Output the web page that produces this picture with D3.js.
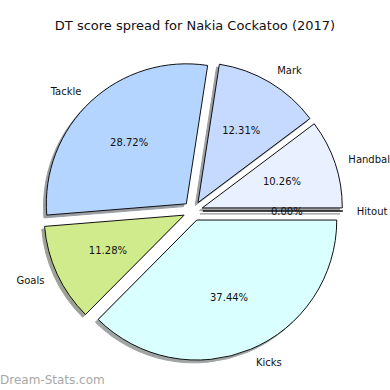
<!DOCTYPE html>
<html><head><meta charset="utf-8">
<script src="https://cdn.jsdelivr.net/npm/d3@7"></script>
<style>body{margin:0;background:#fff}svg{display:block}text{font-family:"DejaVu Sans",sans-serif}</style>
</head><body>
<script>
const categories = ["Hitout","Handball","Mark","Tackle","Goals","Kicks"];
const values = [0, 20, 24, 56, 22, 73];
const colors = ["#f0f0ff","#e9f0ff","#c6daff","#b3d5ff","#d0eb8b","#d9ffff"];
const titleText = "DT score spread for Nakia Cockatoo (2017)";

const W = 390, H = 390;
const cx = 193, cy = 211, r = 140, explode = 0.07;
const svg = d3.select("body").append("svg").attr("width", W).attr("height", H);

svg.append("text").attr("x", 195).attr("y", 30).attr("text-anchor","middle")
  .attr("font-size", 13).attr("fill","#111").text(titleText);

const total = d3.sum(values);
const pie = d3.pie().sort(null).value(d => d).startAngle(Math.PI/2).endAngle(Math.PI/2 - 2*Math.PI);
const arcs = pie(values);
const arc = d3.arc().innerRadius(0).outerRadius(r);

const g = svg.append("g");
arcs.forEach((a, i) => {
  const mid = (a.startAngle + a.endAngle) / 2;
  const dx = Math.sin(mid), dy = -Math.cos(mid);
  const ox = cx + explode * r * dx, oy = cy + explode * r * dy;
  const c = d3.rgb(colors[i]);
  const sc = d3.rgb(c.r*0.3, c.g*0.3, c.b*0.3);
  g.append("path").attr("d", arc(a)).attr("transform", `translate(${ox-2.8},${oy+2.8})`)
    .attr("fill", sc).attr("stroke", sc).attr("opacity", 0.5);
});
arcs.forEach((a, i) => {
  const mid = (a.startAngle + a.endAngle) / 2;
  const dx = Math.sin(mid), dy = -Math.cos(mid);
  const ox = cx + explode * r * dx, oy = cy + explode * r * dy;
  g.append("path").attr("d", arc(a)).attr("transform", `translate(${ox},${oy})`)
    .attr("fill", colors[i]).attr("stroke", "#111").attr("stroke-width", 1).attr("stroke-linejoin","round");
});
arcs.forEach((a, i) => {
  const mid = (a.startAngle + a.endAngle) / 2;
  const dx = Math.sin(mid), dy = -Math.cos(mid);
  const ox = cx + explode * r * dx, oy = cy + explode * r * dy;
  g.append("text").attr("x", ox + 1.1*r*dx).attr("y", oy + 1.1*r*dy)
    .attr("text-anchor", dx >= 0 ? "start" : "end").attr("dominant-baseline","central")
    .attr("font-size", 10).attr("fill","#111").text(categories[i]);
  g.append("text").attr("x", ox + 0.6*r*dx).attr("y", oy + 0.6*r*dy)
    .attr("text-anchor", "middle").attr("dominant-baseline","central")
    .attr("font-size", 10).attr("fill","#111").text((values[i]/total*100).toFixed(2) + "%");
});

svg.append("text").attr("x", 0).attr("y", 384).attr("font-size", 12)
  .attr("fill","#a8a8a8").text("Dream-Stats.com");
</script>
</body></html>
